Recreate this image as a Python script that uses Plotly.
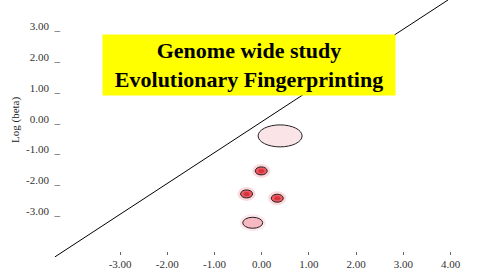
import plotly.graph_objects as go

# ---- data ----
x_ticks = [-3, -2, -1, 0, 1, 2, 3, 4]
x_tick_labels = ["-3.00", "-2.00", "-1.00", "0.00", "1.00", "2.00", "3.00", "4.00"]
y_ticks = [-3, -2, -1, 0, 1, 2, 3]
y_tick_labels = ["-3.00", "-2.00", "-1.00", "0.00", "1.00", "2.00", "3.00"]

line_x = [-4.38, 3.95]
line_y = [-4.50, 3.87]

point_x = [0.39, -0.01, -0.32, 0.33, -0.19]
point_y = [-0.56, -1.70, -2.45, -2.59, -3.39]
point_kind = ["large", "dot", "dot", "dot", "medium"]

# ---- styles ----
SERIF = "Liberation Serif, Times New Roman, serif"
kind_style = {
    "large": dict(w=44, h=22, fill="#fbe4e8", inner=None, glow=None),
    "dot": dict(w=12, h=8, fill="#ec5a63", inner="#d8323c", glow="#fbd9dc"),
    "medium": dict(w=20, h=11, fill="#f6b9c1", inner=None, glow="#fde9ec"),
}

fig = go.Figure()
fig.add_trace(go.Scatter(x=line_x, y=line_y, mode="lines",
                         line=dict(color="black", width=1), hoverinfo="skip"))
fig.add_trace(go.Scatter(x=point_x, y=point_y, mode="markers",
                         marker=dict(size=1, opacity=0), hoverinfo="x+y"))

shapes = []
for px, py, k in zip(point_x, point_y, point_kind):
    s = kind_style[k]
    if s["glow"]:
        gw, gh = s["w"] + 6, s["h"] + 6
        shapes.append(dict(type="circle", xref="x", yref="y", xsizemode="pixel", ysizemode="pixel",
                           xanchor=px, yanchor=py, x0=-gw / 2, x1=gw / 2, y0=-gh / 2, y1=gh / 2,
                           fillcolor=s["glow"], line=dict(width=0), layer="below"))
    shapes.append(dict(type="circle", xref="x", yref="y", xsizemode="pixel", ysizemode="pixel",
                       xanchor=px, yanchor=py, x0=-s["w"] / 2, x1=s["w"] / 2,
                       y0=-s["h"] / 2, y1=s["h"] / 2,
                       fillcolor=s["fill"], line=dict(color="#222", width=1)))
    if s["inner"]:
        iw, ih = s["w"] * 0.5, s["h"] * 0.5
        shapes.append(dict(type="circle", xref="x", yref="y", xsizemode="pixel", ysizemode="pixel",
                           xanchor=px, yanchor=py, x0=-iw / 2, x1=iw / 2, y0=-ih / 2, y1=ih / 2,
                           fillcolor=s["inner"], line=dict(width=0)))

fig.update_layout(
    width=480, height=270,
    margin=dict(l=0, r=0, t=0, b=0),
    paper_bgcolor="white", plot_bgcolor="white",
    showlegend=False,
    shapes=shapes,
    xaxis=dict(range=[-5.544, 4.625], domain=[0, 1], anchor="free", position=0.07,
               showline=False, showgrid=False, zeroline=False,
               tickmode="array", tickvals=x_ticks, ticktext=x_tick_labels,
               ticks="outside", ticklen=3, tickcolor="#666", tickwidth=1,
               tickfont=dict(family=SERIF, size=11, color="#333")),
    yaxis=dict(range=[-4.928, 3.866], domain=[0, 1], anchor="free", position=0.125,
               showline=False, showgrid=False, zeroline=False,
               tickmode="array", tickvals=y_ticks,
               ticktext=[t + "  _" for t in y_tick_labels],
               ticks="", tickfont=dict(family=SERIF, size=11, color="#333")),
    annotations=[
        dict(xref="paper", yref="paper", x=249 / 480, y=1 - 65 / 270,
             xanchor="center", yanchor="middle",
             text="<b>Genome wide study<br>Evolutionary Fingerprinting</b>",
             showarrow=False, width=290, height=58, bgcolor="#ffff00",
             font=dict(family=SERIF, size=22, color="black"), align="center"),
        dict(xref="paper", yref="paper", x=15 / 480, y=1 - 120 / 270,
             xanchor="center", yanchor="middle",
             text="Log (beta)", textangle=-90, showarrow=False,
             font=dict(family=SERIF, size=11, color="#222")),
    ],
)

fig.write_html("out.html")
